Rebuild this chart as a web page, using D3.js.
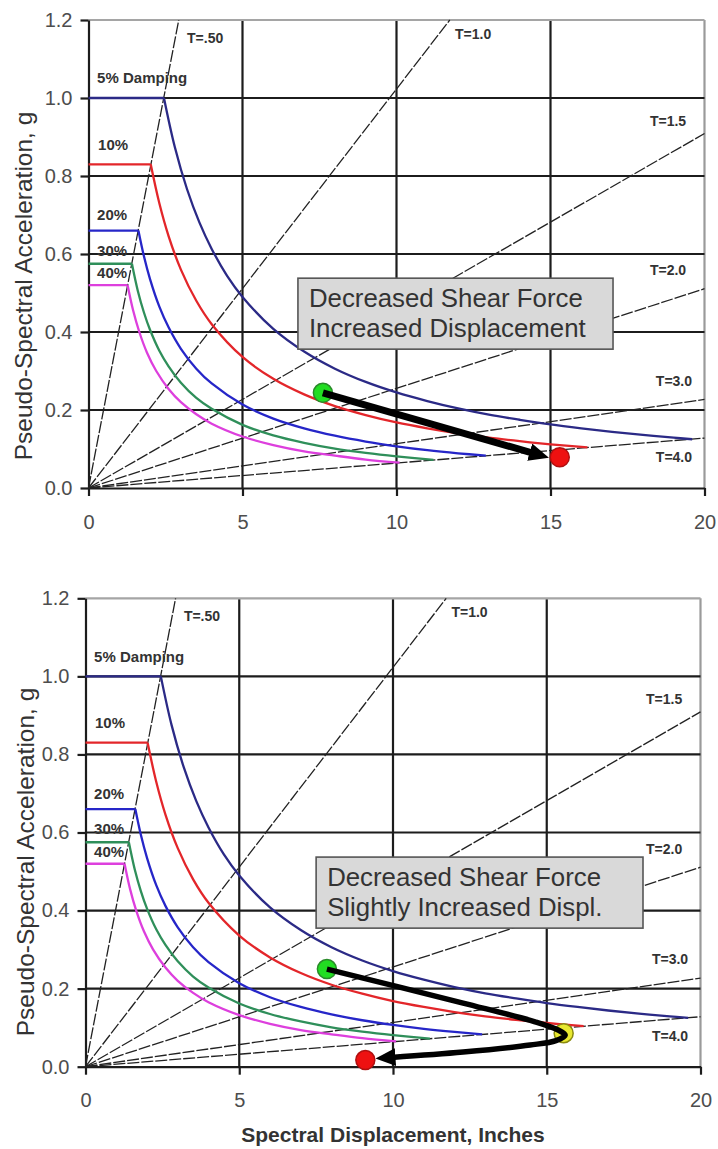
<!DOCTYPE html>
<html><head><meta charset="utf-8">
<script src="https://cdn.jsdelivr.net/npm/d3@7"></script>
<style>body{margin:0;background:#fff}svg{display:block}</style>
</head><body>
<svg id="c" width="718" height="1149"></svg>
<script>
// ---------------- data ----------------
const xTicks = [0, 5, 10, 15, 20];
const yTicks = [0, 0.2, 0.4, 0.6, 0.8, 1.0, 1.2];
const yTickLabels = ["0.0", "0.2", "0.4", "0.6", "0.8", "1.0", "1.2"];

const periodNames = ["T=.50", "T=1.0", "T=1.5", "T=2.0", "T=3.0", "T=4.0"];
const periodEndSd = [2.93, 11.73, 20, 20, 20, 20];
const periodEndSa = [1.2, 1.2, 0.909, 0.511, 0.227, 0.128];

const dampingNames = ["5% Damping", "10%", "20%", "30%", "40%"];
const damp5 = [[0,1.0],[2.45,1.0],[2.8,0.875],[3.2,0.766],[3.6,0.681],[4,0.613],[4.5,0.544],[5,0.49],[6,0.408],[7,0.35],[8,0.306],[9,0.272],[10,0.245],[11,0.223],[12,0.204],[13,0.188],[14,0.175],[15,0.163],[16,0.153],[17,0.144],[18,0.136],[19,0.129],[19.6,0.125]];
const damp10 = [[0,0.83],[2.02,0.83],[2.3,0.73],[2.6,0.646],[3,0.56],[3.5,0.48],[4,0.42],[5,0.336],[6,0.28],[7,0.24],[8,0.21],[9,0.187],[10,0.168],[11,0.153],[12,0.14],[13,0.129],[14,0.12],[15,0.112],[16.2,0.104]];
const damp20 = [[0,0.66],[1.62,0.66],[1.8,0.594],[2,0.535],[2.3,0.465],[2.6,0.412],[3,0.357],[3.5,0.306],[4,0.268],[5,0.214],[6,0.178],[7,0.153],[8,0.134],[9,0.119],[10,0.107],[11,0.097],[12,0.089],[12.9,0.083]];
const damp30 = [[0,0.575],[1.41,0.575],[1.6,0.506],[1.8,0.45],[2,0.405],[2.3,0.352],[2.6,0.312],[3,0.27],[3.5,0.231],[4,0.203],[5,0.162],[6,0.135],[7,0.116],[8,0.101],[9,0.09],[10,0.081],[11.2,0.072]];
const damp40 = [[0,0.52],[1.27,0.52],[1.45,0.455],[1.65,0.4],[1.9,0.347],[2.2,0.3],[2.6,0.254],[3,0.22],[3.5,0.189],[4,0.165],[5,0.132],[6,0.11],[7,0.094],[8,0.083],[9,0.073],[10.1,0.065]];

// chart 1 points / arrow
const top_green = [7.61, 0.244];
const top_red = [15.3, 0.079];
const top_arrow = [[7.61, 0.244], [14.45, 0.089]];
const top_text = ["Decreased Shear Force", "Increased Displacement"];

// chart 2 points / arrow
const bot_green = [7.85, 0.25];
const bot_yellow = [15.55, 0.086];
const bot_red = [9.1, 0.017];
const bot_arrow = [[7.85,0.250],[12.28,0.163],[14.62,0.115],[15.37,0.094],[15.6,0.081],[15.3,0.067],[14.46,0.0555],[12.28,0.0376],[9.95,0.0238]];
const bot_text = ["Decreased Shear Force", "Slightly Increased Displ."];

const yTitle = "Pseudo-Spectral Acceleration, g";
const xTitle = "Spectral Displacement, Inches";

// ---------------- layout / style ----------------
const FONT = "Arial, 'Liberation Sans', Helvetica, sans-serif";
const dampColors = ["#2b2a86", "#e3262a", "#2626c8", "#2f8f5a", "#dd3fdd"];
const periodLabelPos = [[3.2,1.141],[11.9,1.151],[18.23,0.928],[18.23,0.546],[18.42,0.262],[18.42,0.067]];
const dampLabelPos = [[0.28,1.038],[0.31,0.867],[0.28,0.687],[0.28,0.595],[0.28,0.538]];

const svg = d3.select("#c");
const defs = svg.append("defs");
defs.append("marker").attr("id","ah").attr("markerUnits","userSpaceOnUse")
  .attr("viewBox","0 0 20 18").attr("markerWidth",20).attr("markerHeight",18)
  .attr("refX",4).attr("refY",9).attr("orient","auto")
  .append("path").attr("d","M0,0 L20,9 L0,18 Z").attr("fill","#000");

function drawChart(cfg) {
  const g = svg.append("g");
  const x = d3.scaleLinear().domain([0, 20]).range([cfg.x0, cfg.x1]);
  const y = d3.scaleLinear().domain([0, 1.2]).range([cfg.y0, cfg.y1]);

  // grid
  g.selectAll(".vg").data(xTicks.slice(1)).join("line")
    .attr("x1", d => x(d)).attr("x2", d => x(d)).attr("y1", y(0)).attr("y2", y(1.2))
    .attr("stroke", d => d === 20 ? "#9a9a9a" : "#1c1c1c").attr("stroke-width", 2.2);
  g.selectAll(".hg").data(yTicks.slice(1)).join("line")
    .attr("x1", x(0)).attr("x2", x(20)).attr("y1", d => y(d)).attr("y2", d => y(d))
    .attr("stroke", d => d === 1.2 ? "#a5a5a5" : "#1c1c1c").attr("stroke-width", 2.2);

  // axes
  const ax = g.append("g").attr("transform", `translate(0,${y(0)})`)
    .call(d3.axisBottom(x).tickValues(xTicks).tickSize(8).tickSizeOuter(0).tickPadding(18.5));
  const ay = g.append("g").attr("transform", `translate(${x(0)},0)`)
    .call(d3.axisLeft(y).tickValues(yTicks).tickFormat((d, i) => yTickLabels[i]).tickSize(8).tickSizeOuter(0).tickPadding(8));
  [ax, ay].forEach(a => {
    a.select(".domain").attr("stroke", "#1c1c1c").attr("stroke-width", 2.2);
    a.selectAll(".tick line").attr("stroke", "#1c1c1c").attr("stroke-width", 2.2);
    a.selectAll(".tick text").attr("font-family", FONT).attr("font-size", 20).attr("fill", "#4d4d4d");
  });

  // period lines
  g.selectAll(".pl").data(periodEndSd).join("line")
    .attr("x1", x(0)).attr("y1", y(0))
    .attr("x2", d => x(d)).attr("y2", (d, i) => y(periodEndSa[i]))
    .attr("stroke", "#222").attr("stroke-width", 1.3).attr("stroke-dasharray", "12,2");

  // damping curves
  const lin = d3.line().x(d => x(d[0])).y(d => y(d[1]));
  const smooth = d3.line().x(d => x(d[0])).y(d => y(d[1])).curve(d3.curveCatmullRom.alpha(0.5));
  [damp5, damp10, damp20, damp30, damp40].forEach((c, i) => {
    g.append("path").attr("d", lin(c.slice(0, 2))).attr("fill", "none")
      .attr("stroke", dampColors[i]).attr("stroke-width", 2.3);
    g.append("path").attr("d", smooth(c.slice(1))).attr("fill", "none")
      .attr("stroke", dampColors[i]).attr("stroke-width", 2.3);
  });

  // labels
  g.selectAll(".plab").data(periodNames).join("text")
    .attr("x", (d, i) => x(periodLabelPos[i][0])).attr("y", (d, i) => y(periodLabelPos[i][1]))
    .attr("font-family", FONT).attr("font-weight", "bold").attr("font-size", 14).attr("fill", "#333")
    .text(d => d);
  g.selectAll(".dlab").data(dampingNames).join("text")
    .attr("x", (d, i) => x(dampLabelPos[i][0])).attr("y", (d, i) => y(dampLabelPos[i][1]))
    .attr("font-family", FONT).attr("font-weight", "bold").attr("font-size", 15).attr("fill", "#333")
    .text(d => d);

  // y title
  g.append("text").attr("transform", `translate(${cfg.ytx},${cfg.yty}) rotate(-90)`)
    .attr("text-anchor", "middle").attr("font-family", FONT).attr("font-size", 24.5).attr("fill", "#333")
    .text(yTitle);

  // box
  const bx0 = x(cfg.box[0]), bx1 = x(cfg.box[1]), by0 = y(cfg.box[2]), by1 = y(cfg.box[3]);
  g.append("rect").attr("x", bx0).attr("y", by0).attr("width", bx1 - bx0).attr("height", by1 - by0)
    .attr("fill", "#d9d9d9").attr("stroke", "#555").attr("stroke-width", 1.6);
  g.selectAll(".bt").data(cfg.text).join("text")
    .attr("x", bx0 + 11).attr("y", (d, i) => by0 + 29 + i * 29.5)
    .attr("font-family", FONT).attr("font-size", 25.8).attr("fill", "#333").text(d => d);

  // dots & arrows
  const dot = (p, fill, stroke) => g.append("circle").attr("cx", x(p[0])).attr("cy", y(p[1])).attr("r", 9.5)
    .attr("fill", fill).attr("stroke", stroke).attr("stroke-width", 1.5);
  cfg.dotsUnder.forEach(d => dot(d[0], d[1], d[2]));
  g.append("path").attr("d", (cfg.curved ? smooth : lin)(cfg.arrow)).attr("fill", "none")
    .attr("stroke", "#000").attr("stroke-width", cfg.aw).attr("stroke-linejoin", "round")
    .attr("marker-end", "url(#ah)");
  cfg.dotsOver.forEach(d => dot(d[0], d[1], d[2]));
  return {x, y};
}

drawChart({x0: 88.5, x1: 704.5, y0: 488, y1: 20, ytx: 32, yty: 286,
  box: [6.8, 17.03, 0.538, 0.356], text: top_text,
  dotsUnder: [[top_green, "#22dd22", "#2a8a2a"]], dotsOver: [[top_red, "#ee1111", "#b01010"]],
  arrow: top_arrow, curved: false, aw: 7});

const c2 = drawChart({x0: 85.5, x1: 700.5, y0: 1066.7, y1: 598.3, ytx: 34, yty: 862,
  box: [7.5, 18.13, 0.537, 0.355], text: bot_text,
  dotsUnder: [[bot_green, "#22dd22", "#2a8a2a"], [bot_yellow, "#e8e830", "#8a8a10"]], dotsOver: [[bot_red, "#ee1111", "#b01010"]],
  arrow: bot_arrow, curved: true, aw: 5.5});

svg.append("text").attr("x", c2.x(10)).attr("y", 1142).attr("text-anchor", "middle")
  .attr("font-family", FONT).attr("font-weight", "bold").attr("font-size", 21).attr("fill", "#333")
  .text(xTitle);
</script>
</body></html>
